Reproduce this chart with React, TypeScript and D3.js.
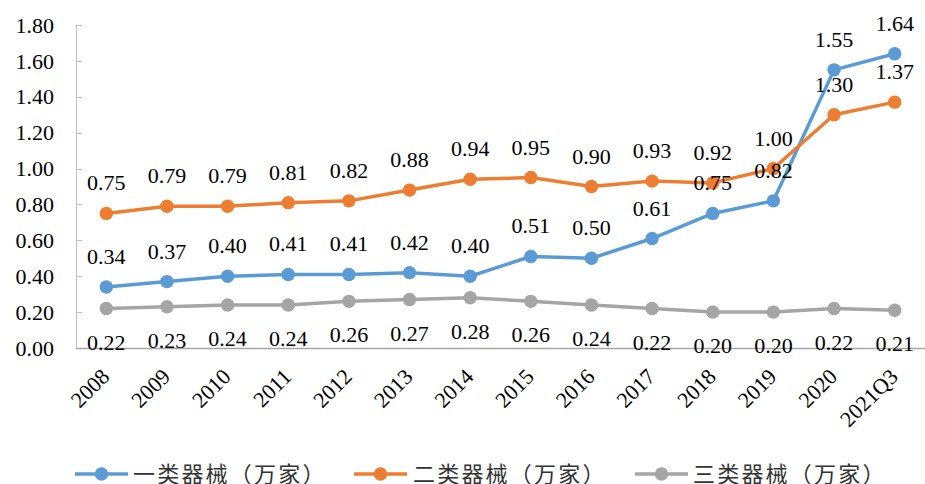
import React from "react";
import * as d3 from "d3";

const categories = ["2008","2009","2010","2011","2012","2013","2014","2015","2016","2017","2018","2019","2020","2021Q3"];
const seriesNames = ["一类器械（万家）","二类器械（万家）","三类器械（万家）"];
const class1 = [0.34,0.37,0.40,0.41,0.41,0.42,0.40,0.51,0.50,0.61,0.75,0.82,1.55,1.64];
const class2 = [0.75,0.79,0.79,0.81,0.82,0.88,0.94,0.95,0.90,0.93,0.92,1.00,1.30,1.37];
const class3 = [0.22,0.23,0.24,0.24,0.26,0.27,0.28,0.26,0.24,0.22,0.20,0.20,0.22,0.21];
const yTicks = [0,0.2,0.4,0.6,0.8,1.0,1.2,1.4,1.6,1.8];
const colors = ["#5B9BD5","#ED7D31","#A5A5A5"];

const W = 925, H = 484;
const left = 76, right = 925, top = 25, bottom = 348;
const NUM_FONT = "Times New Roman, Liberation Serif, serif";
const CJK_FONT = "Noto Sans CJK SC, Noto Sans CJK JP, sans-serif";

export default function App() {
  const x = d3.scalePoint<string>().domain(categories).range([left, right]).padding(0.5);
  const y = d3.scaleLinear().domain([0, 1.8]).range([bottom, top]);
  const line = d3.line<number>().x((_, i) => x(categories[i]) as number).y(d => y(d));
  const series = [class1, class2, class3];
  const labelDy = [-23, -23, 41];
  const legendItems = [
    { lx: 75, tx: 133 },
    { lx: 354, tx: 413 },
    { lx: 635, tx: 693 },
  ];
  const legendY = 474;
  const numStyle = { fontFamily: NUM_FONT, fontSize: "22px" };
  return (
    <svg width={W} height={H} style={{ position: "absolute", left: 0, top: 0, background: "#fff" }}>
      <line x1={left + 0.5} x2={left + 0.5} y1={top} y2={bottom} stroke="#bfbfbf" strokeWidth={1} />
      {yTicks.map(t => (
        <g key={t}>
          <line x1={left} x2={left + 6} y1={Math.round(y(t)) + 0.5} y2={Math.round(y(t)) + 0.5} stroke="#bfbfbf" />
          <text x={54} y={y(t)} dy="0.35em" textAnchor="end" style={numStyle} fill="#000">
            {t.toFixed(2)}
          </text>
        </g>
      ))}
      {series.map((s, si) => (
        <g key={si}>
          <path d={line(s) as string} fill="none" stroke={colors[si]} strokeWidth={3.5} strokeLinejoin="round" />
          {s.map((v, i) => (
            <circle key={i} cx={x(categories[i]) as number} cy={y(v)} r={6.7} fill={colors[si]} />
          ))}
        </g>
      ))}
      <line x1={left} x2={right} y1={bottom + 0.5} y2={bottom + 0.5} stroke="#a6a6a6" strokeWidth={1.5} />
      {series.map((s, si) => (
        <g key={"l" + si}>
          {s.map((v, i) => (
            <text key={i} x={x(categories[i]) as number} y={y(v) + labelDy[si]} textAnchor="middle"
              style={numStyle} fill="#000">
              {v.toFixed(2)}
            </text>
          ))}
        </g>
      ))}
      {categories.map(c => {
        const px = (x(c) as number) + 4.5;
        const py = 378;
        return (
          <text key={c} x={px} y={py} transform={`rotate(-45 ${px} ${py})`} textAnchor="end"
            style={numStyle} fill="#000">
            {c}
          </text>
        );
      })}
      {legendItems.map((it, i) => (
        <g key={"lg" + i}>
          <line x1={it.lx} x2={it.lx + 53} y1={legendY} y2={legendY} stroke={colors[i]} strokeWidth={3.5} />
          <circle cx={it.lx + 26.5} cy={legendY} r={6.7} fill={colors[i]} />
          <text x={it.tx} y={legendY + 8} style={{ fontFamily: CJK_FONT, fontSize: "22px", letterSpacing: "2.2px" }} fill="#333">
            {seriesNames[i]}
          </text>
        </g>
      ))}
    </svg>
  );
}
